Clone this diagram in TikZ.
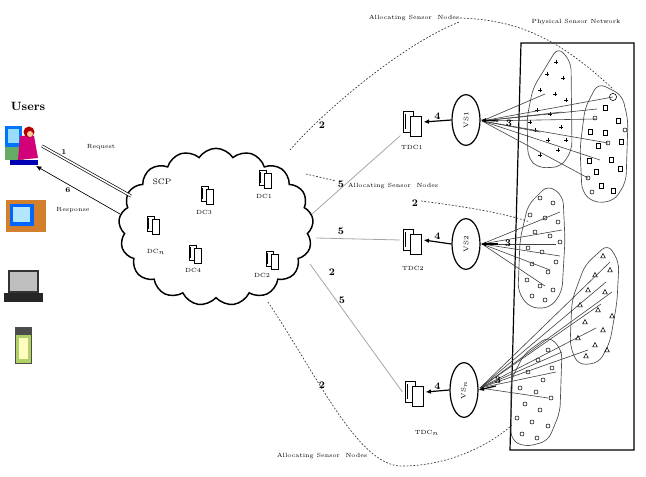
\documentclass[tikz,border=0pt]{standalone}
\usetikzlibrary{shapes.symbols,shapes.geometric,arrows.meta}
\begin{document}
\begin{tikzpicture}[x=0.75pt,y=-0.75pt,
  tiny/.style={font=\fontsize{4.5}{5}\selectfont, inner sep=0.5pt},
  num/.style={font=\fontsize{7.5}{8}\selectfont\bfseries, inner sep=0.5pt},
  alloc/.style={draw=black!80, line width=0.5pt, dash pattern=on 1.3pt off 1.3pt},
  feed/.style={draw=black!35, line width=0.6pt},
  sline/.style={draw=black!75, line width=0.45pt},
  blob/.style={draw=black!70, line width=0.5pt, rounded corners=6pt},
  vsnode/.style={ellipse, draw, line width=0.9pt, minimum width=21pt, minimum height=38pt, inner sep=0pt, font=\fontsize{5}{6}\selectfont},
  tdcbox/.style={minimum width=17pt, minimum height=20pt, inner sep=0pt},
  srv/.pic={\draw[fill=white, line width=0.45pt] (-6,-7) rectangle (1,8);
            \draw[fill=white, line width=0.45pt] (-1,-4) rectangle (6,11);
            \draw[line width=0.4pt] (-4.5,-5) -- (-4.5,6);},
  big/.pic={\draw[fill=white, line width=0.5pt] (-9,-11) rectangle (1,10);
            \draw[fill=white, line width=0.5pt] (-2,-6) rectangle (9,14);
            \draw[line width=0.4pt] (-7,-8) -- (-7,7);},
  plusmk/.pic={\draw[line width=0.4pt] (-2,0) -- (2,0) (0,-2) -- (0,2);},
  circmk/.pic={\draw[line width=0.4pt] (0,0) circle (2);},
  sqmk/.pic={\draw[line width=0.4pt] (-2,-2.5) rectangle (2,2.5);},
  trimk/.pic={\draw[line width=0.4pt] (0,-2.5) -- (2.3,1.8) -- (-2.3,1.8) -- cycle;},
  tip/.style={-{Latex[length=4pt,width=3.5pt]}}
]
\useasboundingbox (0,0) rectangle (646,477);

% ---------- users ----------
\node[font=\fontsize{9}{10}\selectfont\bfseries, inner sep=0pt] (users) at (28,106) {Users};

% user at a desktop
\fill[blue!55!cyan] (5,126) rectangle (22,147);
\fill[cyan!40] (8,129) rectangle (19,143);
\fill[green!45!black!60] (5,147) rectangle (24,160);
\fill[purple!70!magenta] (20,136) -- (34,136) -- (38,158) -- (18,160) -- cycle;
\fill[red!70!black] (29,132) circle (5.5);
\fill[orange!40!white] (30,134) circle (3);
\fill[blue!70!black] (10,160) rectangle (38,165);
% desktop computer
\fill[brown!70!orange] (6,200) rectangle (46,232);
\fill[blue!60!cyan] (10,204) rectangle (34,226);
\fill[cyan!30] (13,207) rectangle (30,222);
% laptop
\fill[black!25] (9,271) rectangle (38,292);
\draw[black!80, line width=0.8pt] (9,271) rectangle (38,292);
\fill[black!85] (4,293) -- (43,293) -- (43,302) -- (4,302) -- cycle;
% handheld
\fill[black!70] (15,327) rectangle (31,335);
\fill[green!30!yellow!70!black!60] (15,335) rectangle (31,363);
\fill[yellow!25] (19,338) rectangle (28,359);
\draw[black!70, line width=0.5pt] (15,327) rectangle (31,363);

% ---------- service cloud ----------
\node[cloud, draw, line width=1.1pt, cloud puffs=17, cloud puff arc=115, aspect=1.2,
      minimum width=146pt, minimum height=118pt] (scp) at (216,227) {};
\node[tiny, font=\fontsize{6}{7}\selectfont] (scplbl) at (162,182) {SCP};

\pic at (207,193) {srv}; \node[tiny] (dc3) at (204,212) {DC3};
\pic at (265,177) {srv}; \node[tiny] (dc1) at (264,196) {DC1};
\pic at (153,223) {srv}; \node[tiny] (dcn) at (156,252) {DC$_n$};
\pic at (195,252) {srv}; \node[tiny] (dc4) at (193,270) {DC4};
\pic at (272,258) {srv}; \node[tiny] (dc2) at (262,275) {DC2};

% request / response links
\coordinate (ureq) at (42,146);
\coordinate (ures) at (36,166);
\coordinate (creq) at (131,196);
\coordinate (cres) at (120,214);
\draw[line width=0.5pt, double, double distance=1.2pt] (ureq) -- (creq);
\draw[tip, line width=0.5pt] (cres) -- (ures);
\node[tiny] (reqlbl) at (101,147) {Request};
\node[tiny] (reslbl) at (73,210) {Response};
\node[num, font=\fontsize{5.5}{6}\selectfont\bfseries] (one) at (64,152) {1};
\node[num, font=\fontsize{5.5}{6}\selectfont\bfseries] (six) at (68,190) {6};

% ---------- physical sensor network ----------
\draw[line width=0.9pt] (521,43) -- (634,43) -- (634,450) -- (510,450) -- cycle;
\node[tiny] (psn) at (576,22) {Physical Sensor Network};

\draw[blob] (558,47) -- (571,62) -- (572,150) -- (561,167) -- (538,168) -- (528,158) -- (527,118) -- (533,88) -- cycle;
\draw[blob] (598,83) -- (622,95) -- (628,120) -- (626,182) -- (614,201) -- (594,203) -- (582,192) -- (580,148) -- (585,108) -- cycle;
\draw[blob] (548,185) -- (563,196) -- (565,240) -- (562,292) -- (550,308) -- (530,308) -- (518,292) -- (520,240) -- (528,205) -- cycle;
\draw[blob] (608,244) -- (619,262) -- (617,302) -- (610,342) -- (599,363) -- (578,365) -- (570,346) -- (572,300) -- (585,265) -- cycle;
\draw[blob] (549,336) -- (562,350) -- (560,412) -- (548,441) -- (525,447) -- (511,440) -- (511,380) -- (524,354) -- cycle;

\foreach \p in {(556,62),(547,74),(563,78),(540,90),(555,94),(566,100),(537,110),(550,114),(561,127),(535,130),(548,140),(558,150),(540,155),(530,122),(566,140)}
  \pic at \p {plusmk};
\foreach \p in {(605,108),(618,121),(590,132),(605,133),(621,142),(598,146),(589,161),(611,160),(596,172),(620,169),(601,186),(613,191)}
  \pic at \p {sqmk};
\foreach \p in {(595,118),(588,178),(608,143),(592,192),(625,130)}
  \pic at \p {circmk};
\pic[scale=1.8] at (613,97) {circmk};
\foreach \p in {(540,198),(553,203),(530,215),(545,218),(558,222),(535,232),(550,236),(528,248),(542,252),(556,262),(532,264),(548,272),(527,280),(540,286),(553,290),(532,296),(545,300),(560,242)}
  \pic at \p {circmk};
\foreach \p in {(603,256),(610,270),(595,275),(588,290),(605,292),(580,305),(598,310),(612,316),(585,322),(603,330),(578,338),(595,345),(607,350),(586,356)}
  \pic at \p {trimk};
\foreach \p in {(548,350),(538,360),(552,368),(528,372),(543,380),(520,388),(536,392),(551,398),(525,404),(540,410),(517,418),(532,422),(548,426),(522,434),(537,438)}
  \pic at \p {circmk};

% ---------- virtual sensors and their data collectors ----------
\node[vsnode] (vs1) at (466,120) {\rotatebox{90}{VS1}};
\node[vsnode] (vs2) at (466,244) {\rotatebox{90}{VS2}};
\node[vsnode, minimum height=41pt] (vsn) at (464,390) {\rotatebox{90}{VS$_n$}};

\node[tdcbox] (tdc1) at (412,122) {}; \pic at (tdc1) {big};
\node[tdcbox] (tdc2) at (412,240) {}; \pic at (tdc2) {big};
\node[tdcbox] (tdcn) at (414,392) {}; \pic at (tdcn) {big};
\node[tiny] (tdc1lbl) at (412,147) {TDC1};
\node[tiny] (tdc2lbl) at (413,268) {TDC2};
\node[tiny] (tdcnlbl) at (427,433) {TDC$_n$};

\draw[tip, line width=0.9pt] (vs1.west) -- (tdc1.east) node[num, midway, above=0pt] (f41) {4};
\draw[tip, line width=0.9pt] (vs2.west) -- (tdc2.east) node[num, midway, above=1pt] (f42) {4};
\draw[tip, line width=0.9pt] (vsn.west) -- (tdcn.east) node[num, midway, above=0pt] (f4n) {4};

% sensor readings gathered by each virtual sensor
\coordinate (in1) at (482,121);
\foreach \t in {(613,97),(597,109),(596,119),(608,143),(600,160),(588,178),(545,94),(562,112),(540,132)}
  \draw[sline] \t -- (in1);
\draw[tip, line width=0.9pt] (498,121) -- (vs1.east);
\node[num] (r31) at (509,123) {3};

\coordinate (in2) at (482,244);
\foreach \t in {(560,212),(562,230),(556,244),(560,256),(550,270),(545,286)}
  \draw[sline] \t -- (in2);
\draw[tip, line width=0.9pt] (498,244) -- (vs2.east);
\node[num] (r32) at (508,243) {3};

\coordinate (inn) at (480,388);
\foreach \t in {(610,262),(606,282),(601,304),(596,328),(588,350),(562,352),(556,372),(548,398),(612,292)}
  \draw[sline] \t -- (inn);
\draw[tip, line width=0.9pt] (496,386) -- (vsn.east);
\node[num] (r3n) at (498,380) {3};

% ---------- configuration links from the cloud ----------
\coordinate (c1) at (312,214);
\coordinate (c2) at (316,238);
\coordinate (c3) at (310,264);
\draw[feed] (c1) -- (tdc1.south west);
\draw[feed] (c2) -- (tdc2.west);
\draw[feed] (c3) -- (tdcn.west);
\node[num] (l52) at (341,231) {5};
\node[num] (l2n) at (332,272) {2};
\node[num] (l5n) at (342,300) {5};

% ---------- sensor allocation ----------
\node[tiny] (al1) at (414,18) {Allocating Sensor \ Nodes};
\node[tiny] (al2) at (393,186) {Allocating Sensor \ Nodes};
\node[tiny] (al3) at (322,456) {Allocating Sensor \ Nodes};

\coordinate (a1s) at (290,150);
\coordinate (a1e) at (612,88);
\draw[alloc] (a1s) .. controls (320,115) and (400,45) .. (al1.south east);
\draw[alloc] (al1.east) .. controls (520,20) and (560,40) .. (a1e);
\node[num] (l21) at (322,125) {2};

\coordinate (a2s) at (306,174);
\coordinate (a2e) at (530,222);
\draw[alloc] (a2s) -- (336,181);
\node[num] (l51) at (341,184) {5};
\draw[alloc] (421,201) .. controls (460,206) and (500,212) .. (a2e);
\node[num] (l22) at (415,203) {2};

\coordinate (a3s) at (268,302);
\coordinate (a3e) at (512,425);
\draw[alloc] (a3s) .. controls (320,380) and (360,470) .. (405,466)
              .. controls (450,465) and (490,445) .. (a3e);
\node[num] (l23) at (322,385) {2};
\end{tikzpicture}
\end{document}
